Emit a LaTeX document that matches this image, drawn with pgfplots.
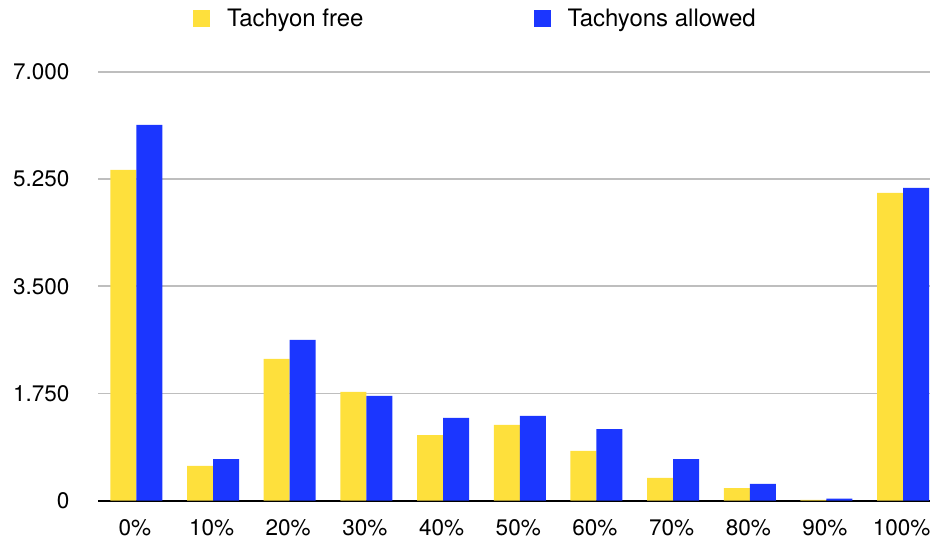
\documentclass[border=0pt]{standalone}
\usepackage{fontspec}
\setmainfont{TeX Gyre Heros}
\usepackage{pgfplots}
\pgfplotsset{compat=1.18}
\definecolor{tyellow}{RGB}{254,224,60}
\definecolor{tblue}{RGB}{27,54,255}
\definecolor{tgrid}{RGB}{190,190,190}
\begin{document}
\begin{tikzpicture}
\path[use as bounding box] (0,0) rectangle (931pt,542pt);
\begin{axis}[
  at={(98pt,41.5pt)}, anchor=south west,
  scale only axis, width=832pt, height=428.5pt,
  ybar=0pt, bar width=26pt,
  xmin=-0.5, xmax=10.35, ymin=0, ymax=7000,
  xtick={0,1,2,3,4,5,6,7,8,9,10},
  xticklabels={0\%,10\%,20\%,30\%,40\%,50\%,60\%,70\%,80\%,90\%,100\%},
  ytick={0,1750,3500,5250,7000},
  yticklabels={0,1.750,3.500,5.250,7.000},
  extra y ticks={0}, extra y tick labels={},
  extra y tick style={grid style={black, line width=2pt}},
  axis line style={draw=none},
  major tick length=0pt,
  ymajorgrids, grid style={tgrid, line width=1.6pt},
  ticklabel style={font=\fontsize{22.5}{27}\selectfont},
  yticklabel style={xshift=-25pt},
  xticklabel style={yshift=-16pt, xshift=-1.5pt},
  clip=false,
  legend columns=2,
  legend style={at={(axis description cs:0.114,1)}, anchor=south west, yshift=42pt,
    draw=none, fill=none, inner sep=0pt,
    font=\fontsize{24}{28}\selectfont,
    /tikz/every odd column/.append style={column sep=15pt},
    /tikz/every even column/.append style={column sep=168pt}},
  legend image code/.code={\fill[#1] (0pt,-8.5pt) rectangle (17pt,8.5pt);},
]
\addplot[fill=tyellow, draw=none] coordinates {
 (0,5400) (1,564) (2,2312) (3,1773) (4,1070) (5,1234) (6,809) (7,368) (8,204) (9,12) (10,5025)};
\addlegendentry{Tachyon free}
\addplot[fill=tblue, draw=none] coordinates {
 (0,6135) (1,678) (2,2623) (3,1708) (4,1348) (5,1381) (6,1168) (7,678) (8,270) (9,30) (10,5106)};
\addlegendentry{Tachyons allowed}
\end{axis}
\end{tikzpicture}
\end{document}
